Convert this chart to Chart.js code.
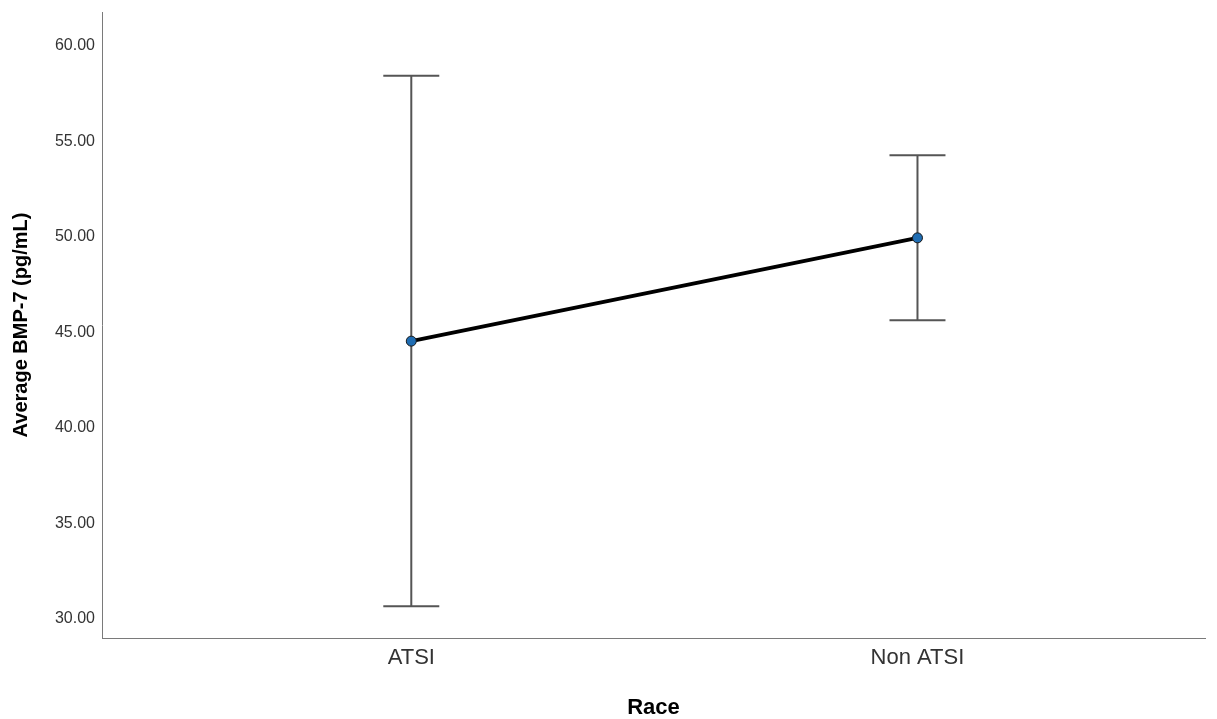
<!DOCTYPE html>
<html><head><meta charset="utf-8">
<script src="https://cdn.jsdelivr.net/npm/chart.js@4.4.1/dist/chart.umd.min.js"></script>
<style>html,body{margin:0;padding:0;background:#fff}canvas{display:block}</style>
</head><body>
<canvas id="c" width="1217" height="719"></canvas>
<script>
const categories = ['ATSI', 'Non ATSI'];
const means = [44.54, 49.95];
const lowerCI = [30.65, 45.64];
const upperCI = [58.44, 54.27];
const yTicks = [30, 35, 40, 45, 50, 55, 60];
const yTitle = 'Average BMP-7 (pg/mL)';
const xTitle = 'Race';

const FONT = "'Liberation Sans', Arial, Helvetica, sans-serif";

const errorBars = {
  id: 'errorBars',
  beforeDatasetsDraw(chart) {
    const {ctx, scales: {x, y}} = chart;
    ctx.save();
    ctx.strokeStyle = '#555555';
    ctx.lineWidth = 2;
    categories.forEach((c, i) => {
      const px = x.getPixelForValue(i);
      const top = y.getPixelForValue(upperCI[i]);
      const bot = y.getPixelForValue(lowerCI[i]);
      ctx.beginPath();
      ctx.moveTo(px, top); ctx.lineTo(px, bot);
      ctx.moveTo(px - 28, top); ctx.lineTo(px + 28, top);
      ctx.moveTo(px - 28, bot); ctx.lineTo(px + 28, bot);
      ctx.stroke();
    });
    ctx.restore();
  }
};

new Chart(document.getElementById('c'), {
  type: 'line',
  data: {
    datasets: [{
      data: means.map((m, i) => ({x: i, y: m})),
      borderColor: '#000000',
      borderWidth: 4,
      tension: 0,
      pointRadius: 5,
      pointBackgroundColor: '#1f6db3',
      pointBorderColor: '#1a1a1a',
      pointBorderWidth: 1
    }]
  },
  options: {
    responsive: false,
    animation: false,
    layout: {padding: {top: 12, right: 12, left: 0, bottom: 0}},
    plugins: {legend: {display: false}, tooltip: {enabled: false}},
    scales: {
      x: {
        type: 'linear',
        min: -0.611,
        max: 1.568,
        afterBuildTicks: s => { s.ticks = categories.map((c, i) => ({value: i})); },
        afterFit: s => { s.height = 81; s.paddingLeft = 0; s.paddingRight = 0; },
        grid: {display: false, drawTicks: false},
        border: {display: true, color: '#7a7a7a', width: 1},
        ticks: {
          autoSkip: false,
          maxRotation: 0,
          padding: 7,
          color: '#333333',
          font: {family: FONT, size: 22},
          callback: (v, i) => categories[i]
        },
        title: {
          display: true,
          text: xTitle,
          color: '#000000',
          font: {family: FONT, size: 22, weight: 'bold', lineHeight: 1},
          padding: {top: 0, bottom: 0}
        }
      },
      y: {
        type: 'linear',
        min: 28.99,
        max: 61.78,
        afterBuildTicks: s => { s.ticks = yTicks.map(v => ({value: v})); },
        afterFit: s => { s.width = 102; s.paddingTop = 0; s.paddingBottom = 0; },
        grid: {display: false, drawTicks: false},
        border: {display: true, color: '#7a7a7a', width: 1},
        ticks: {
          padding: 7,
          color: '#333333',
          font: {family: FONT, size: 16},
          callback: v => Number(v).toFixed(2)
        },
        title: {
          display: true,
          text: yTitle,
          color: '#000000',
          font: {family: FONT, size: 20, weight: 'bold', lineHeight: 1},
          padding: {top: 11, bottom: 0}
        }
      }
    }
  },
  plugins: [errorBars]
});
</script>
</body></html>
